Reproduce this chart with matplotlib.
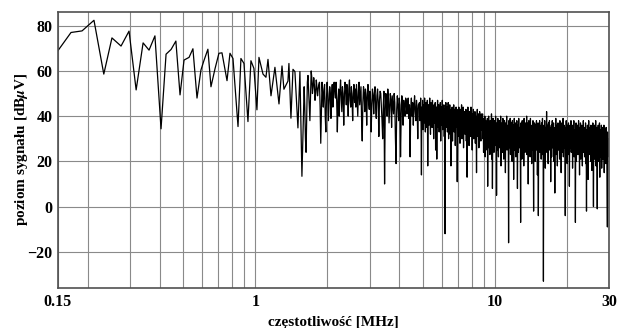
import numpy as np
import matplotlib
matplotlib.use('Agg')
import matplotlib.pyplot as plt
from matplotlib.ticker import FixedLocator, NullFormatter

# low frequency part, points read one by one [MHz]
freq_lo = [0.150, 0.170, 0.189, 0.212, 0.233, 0.252, 0.275, 0.297, 0.318, 0.340,
           0.360, 0.381, 0.404, 0.424, 0.445, 0.466, 0.485, 0.504, 0.529, 0.549,
           0.571, 0.593, 0.610, 0.634, 0.653, 0.679, 0.705, 0.726, 0.762, 0.784,
           0.807, 0.847, 0.871, 0.897, 0.932, 0.959, 0.987, 1.016, 1.036, 1.077,
           1.108, 1.130, 1.163, 1.208, 1.256, 1.293, 1.317, 1.369, 1.382, 1.409,
           1.437, 1.464, 1.507, 1.536, 1.566]
lvl_lo = [69.0, 77.0, 77.7, 82.4, 58.6, 74.6, 71.0, 77.6, 51.6, 72.4,
          69.2, 75.5, 34.4, 67.4, 69.5, 73.2, 49.4, 64.8, 66.0, 69.8,
          48.0, 60.4, 64.5, 69.6, 53.0, 61.0, 67.8, 68.0, 55.7, 67.8,
          65.5, 35.4, 65.5, 63.3, 37.6, 64.5, 61.1, 42.8, 66.0, 58.6,
          57.2, 65.1, 49.0, 61.6, 45.4, 62.2, 51.9, 55.5, 63.3, 39.1,
          60.7, 59.7, 34.8, 59.7, 13.4]

# 1.6 - 4.8 MHz (estimated)
lvl_mid = [
    53, 44, 30, 24, 40, 55, 58, 51, 43, 38, 50, 60, 57, 50, 53, 57, 54, 47, 50, 56,
    53, 49, 52, 54, 55, 44, 28, 42, 55, 50, 44, 52, 54, 40, 33, 48, 55, 50, 38, 45,
    53, 50, 39, 49, 54, 44, 52, 55, 50, 48, 55, 46, 33, 47, 52, 40, 50, 56, 49, 42,
    53, 50, 36, 48, 55, 52, 45, 54, 49, 40, 52, 56, 47, 44, 53, 48, 38, 50, 54, 46,
    52, 44, 54, 47, 40, 51, 55, 45, 49, 53, 38, 29, 46, 53, 50, 42, 52, 48, 36, 50,
    54, 46, 43, 51, 47, 33, 45, 52, 49, 41, 50, 53, 44, 39, 49, 52, 46, 31, 47, 51,
    50, 44, 38, 30, 45, 51, 10, 42, 50, 46, 40, 52, 48, 37, 44, 50, 47, 35, 49, 45,
    41, 50, 46, 30, 19, 43, 49, 44, 38, 48, 45, 22, 40, 49, 46, 36, 47, 43, 40, 48,
    47, 41, 44, 48, 39, 45, 22, 43, 48, 40, 46, 36, 44, 49, 42, 38, 47, 43, 30, 45,
]
f_mid_start, f_mid_stop = 1.60, 4.80

# 4.85 - 8.85 MHz (estimated)
lvl_mid2 = [
    46, 38, 43, 48, 36, 14, 44, 40, 47, 34, 42, 45, 37, 48, 39, 33, 46, 41, 35, 44,
    47, 18, 40, 45, 36, 43, 48, 38, 32, 46, 41, 44, 35, 47, 39, 42, 30, 45, 37, 43,
    46, 25, 40, 44, 21, 42, 47, 35, 39, 45, 33, 43, 38, 46, 29, 41, 44, 36, 47, 34,
    42, 39, 45, 31, 43, -12, 40, 46, 35, 41, 44, 33, 38, 46, 30, 42, 37, 45, 32, 40,
    18, 43, 36, 44, 29, 41, 38, 45, 33, 40, 43, 27, 39, 44, 35, 41, 11, 38, 43, 31,
    44, 36, 40, 28, 43, 34, 39, 45, 30, 41, 37, 44, 26, 40, 35, 42, 32, 38, 43, 29,
    41, 13, 37, 44, 33, 39, 27, 42, 36, 40, 31, 44, 34, 38, 25, 41, 37, 43, 30, 39,
    35, 42, 28, 40, 36, 15, 39, 43, 31, 37, 41, 26, 38, 42, 33, 36, 29, 41, 34, 40,
]
f_mid2_start, f_mid2_stop = 4.85, 8.85

# 8.9 - 30 MHz, dense band (estimated)
lvl_top = [
    41, 30, 37, 24, 39, 33, 27, 40, 22, 35, 38, 28, 36, 31, 25, 39, 9, 34, 29, 40,
    26, 37, 32, 23, 38, 30, 35, 27, 41, 21, 36, 8, 33, 39, 28, 34, 24, 38, 30, 36,
    27, 40, 31, 35, 5, 37, 25, 33, 39, 29, 22, 36, 32, 38, 26, 34, 30, 40, 18, 35,
    28, 37, 33, 24, 39, 30, 36, 21, 34, 38, 27, 32, 15, 37, 29, 35, 40, 25, 33, 28,
    36, 31, -16, 38, 26, 34, 30, 39, 23, 35, 28, 37, 32, 20, 38, 27, 33, 36, 12, 30,
    39, 25, 34, 29, 37, 22, 35, 31, 38, 27, 8, 33, 36, 24, 39, 30, 26, 35, 32, 28,
    -7, 37, 29, 34, 21, 38, 31, 26, 36, 33, 18, 39, 28, 35, 24, 32, 37, 27, 30, 40,
    23, 34, 29, 37, 10, 33, 38, 26, 31, 35, 22, 39, 28, 34, 30, 19, 36, 32, 25, 38,
    29, -2, 35, 27, 37, 31, 20, 36, 33, 25, 38, 28, 34, 14, 30, 37, -4, 32, 26, 35,
    38, 24, 33, 29, 36, 21, 37, 31, 27, 39, 23, 34, -33, 30, 36, 26, 38, 29, 17, 35,
    32, 27, 42, 24, 36, 30, 34, 19, 37, 28, 33, 38, 25, 31, 35, 11, 29, 36, 22, 34,
    38, 26, 32, 29, 37, 20, 34, 30, 6, 35, 27, 39, 23, 33, 28, 36, 18, 31, 37, 25,
    33, 29, 36, 21, 38, 27, 32, 35, 15, 30, 37, 24, 34, 28, 39, 22, 31, 36, 26, 33,
    29, -4, 35, 25, 38, 30, 33, 19, 36, 27, 31, 37, 23, 34, 9, 29, 36, 26, 32, 38,
    24, 33, 29, 36, 17, 31, 35, 27, 38, 22, 30, 34, 26, -7, 33, 37, 20, 29, 35, 28,
    36, 23, 32, 38, 27, 30, 14, 35, 29, 37, 21, 33, 26, 36, 30, 18, 34, 28, 38, 24,
    31, 35, 22, 33, 27, 37, 19, 30, -2, 34, 26, 36, 29, 12, 32, 38, 23, 31, 35, 25,
    33, 20, 36, 28, 31, 16, 35, 27, 37, 24, 0, 32, 29, 36, 21, 34, 26, 38, 18, 31,
    35, 23, -1, 33, 28, 36, 20, 31, 25, 37, 13, 30, 34, 22, 29, 36, 17, 32, 27, 35,
    21, 33, 28, 36, 15, 30, 34, 24, 31, 19, 35, 26, 29, 10, -9, 33, 22, 30, 27, 25,
]
f_top_start, f_top_stop = 8.90, 30.0

xticks = [0.15, 1, 10, 30]
xtick_labels = ['0.15', '1', '10', '30']
yticks = [-20, 0, 20, 40, 60, 80]

freq = np.concatenate([freq_lo,
                       np.geomspace(f_mid_start, f_mid_stop, len(lvl_mid)),
                       np.geomspace(f_mid2_start, f_mid2_stop, len(lvl_mid2)),
                       np.geomspace(f_top_start, f_top_stop, len(lvl_top))])
lvl = np.concatenate([lvl_lo, lvl_mid, lvl_mid2, lvl_top])

plt.rcParams['font.family'] = 'Liberation Serif'
plt.rcParams['font.weight'] = 'bold'
plt.rcParams['mathtext.fontset'] = 'stix'

fig = plt.figure(figsize=(6.17, 3.28), dpi=100)
ax = fig.add_axes([0.094, 0.122, 0.893, 0.841])

ax.plot(freq, lvl, color='black', lw=0.9)

ax.set_xscale('log')
ax.set_xlim(0.15, 30)
ax.set_ylim(-36, 86)
ax.set_xticks(xticks)
ax.set_xticklabels(xtick_labels)
minor = [m * d for d in (0.1, 1, 10) for m in range(2, 10) if 0.15 < m * d < 30]
ax.xaxis.set_minor_locator(FixedLocator(minor))
ax.xaxis.set_minor_formatter(NullFormatter())
ax.set_yticks(yticks)
ax.tick_params(which='both', length=0, labelsize=11.5, pad=4)
for lab in ax.get_xticklabels() + ax.get_yticklabels():
    lab.set_fontweight('bold')

ax.grid(which='both', color='#8a8a8a', lw=0.8)
ax.set_axisbelow(True)
for s in ax.spines.values():
    s.set_color('#505050')
    s.set_linewidth(1.2)

ax.set_xlabel('częstotliwość [MHz]', fontsize=11, fontweight='bold', labelpad=5)
ax.set_ylabel(r'poziom sygnału [dB$\mu$V]', fontsize=11, fontweight='bold')
ax.yaxis.set_label_coords(-0.051, 0.505)

fig.savefig('out.png', dpi=100)
